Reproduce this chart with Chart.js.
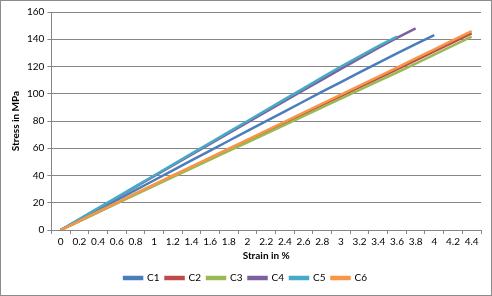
<!DOCTYPE html>
<html>
<head>
<meta charset="utf-8">
<script src="https://cdn.jsdelivr.net/npm/chart.js@4/dist/chart.umd.min.js"></script>
<style>
  body { margin: 0; background: #fff; }
  #wrap { position: relative; width: 490px; height: 294px; border: 1px solid #8c8c8c; }
</style>
</head>
<body>
<div id="wrap"><canvas id="stressChart"></canvas></div>
<script>
// Strain categories (%)
const strainLabels = ['0', '0.2', '0.4', '0.6', '0.8', '1', '1.2', '1.4', '1.6', '1.8', '2',
  '2.2', '2.4', '2.6', '2.8', '3', '3.2', '3.4', '3.6', '3.8', '4', '4.2', '4.4'];

// Stress values in MPa per specimen
const c1 = [0, 7.3, 14.6, 21.9, 29.2, 36.5, 43.8, 51.1, 58.3, 65.5, 72.7, 79.9, 87.1, 94.3, 101.5, 108.6, 115.7, 122.7, 129.6, 136.4, 143];
const c2 = [0, 6.6, 13.2, 19.8, 26.4, 33, 39.6, 46.2, 52.8, 59.3, 65.8, 72.3, 78.8, 85.3, 91.8, 98.3, 104.8, 111.3, 117.9, 124.5, 131.1, 137.7, 144.3];
const c3 = [0, 6.5, 13, 19.5, 26, 32.4, 38.8, 45.2, 51.6, 58, 64.4, 70.8, 77.2, 83.6, 90, 96.4, 102.8, 109.2, 115.6, 122.1, 128.7, 135.3, 142];
const c4 = [0, 7.9, 15.8, 23.7, 31.6, 39.5, 47.4, 55.3, 63.2, 71.1, 79, 86.9, 94.8, 102.6, 110.4, 118.2, 125.9, 133.6, 141, 148];
const c5 = [0, 8, 16, 24, 32, 40, 48, 56, 64, 72, 80, 88, 96, 104, 112, 120, 127.5, 135, 142];
const c6 = [0, 6.7, 13.4, 20.1, 26.8, 33.4, 40, 46.6, 53.2, 59.8, 66.4, 73, 79.6, 86.2, 92.8, 99.4, 106, 112.6, 119.2, 125.9, 132.6, 139.3, 146];

const seriesNames = ['C1', 'C2', 'C3', 'C4', 'C5', 'C6'];
const seriesData = [c1, c2, c3, c4, c5, c6];
const seriesColors = ['#4a7ebb', '#be4b48', '#98b954', '#7d60a0', '#46aac5', '#f79646'];

const fontFamily = 'Lato, "Open Sans", sans-serif';

const datasets = seriesNames.map((name, i) => ({
    label: name,
    data: seriesData[i],
    borderColor: seriesColors[i],
    backgroundColor: seriesColors[i],
    borderWidth: 2.5,
    pointRadius: 0,
    tension: 0,
    order: seriesNames.length - i // later series drawn on top, like Excel
}));

const ctx = document.getElementById('stressChart').getContext('2d');
new Chart(ctx, {
    type: 'line',
    data: { labels: strainLabels, datasets: datasets },
    options: {
        responsive: true,
        maintainAspectRatio: false,
        animation: false,
        layout: { padding: { left: 9, right: 10, top: 11, bottom: 2 } },
        scales: {
            x: {
                type: 'category',
                offset: true,
                grid: {
                    offset: true,
                    drawOnChartArea: false,
                    color: '#868686',
                    tickLength: 4
                },
                border: { color: '#868686' },
                ticks: { color: '#000', font: { family: fontFamily, size: 10 }, maxRotation: 0, autoSkip: false, padding: 2 },
                title: { display: true, text: 'Strain in %', color: '#000', font: { family: fontFamily, size: 10, weight: 'bold' }, padding: { top: 0, bottom: 5 } }
            },
            y: {
                min: 0,
                max: 160,
                ticks: { stepSize: 20, color: '#000', font: { family: fontFamily, size: 10 }, padding: 3 },
                grid: { color: '#868686', tickLength: 4 },
                border: { color: '#868686' },
                title: { display: true, text: 'Stress in MPa', color: '#000', font: { family: fontFamily, size: 10, weight: 'bold' }, padding: { top: 0, bottom: 2 } }
            }
        },
        plugins: {
            legend: {
                position: 'bottom',
                labels: {
                    boxWidth: 18,
                    boxHeight: 2,
                    padding: 6,
                    color: '#000',
                    font: { family: fontFamily, size: 10 },
                    sort: (a, b) => a.datasetIndex - b.datasetIndex
                }
            },
            tooltip: { enabled: false }
        }
    }
});
</script>
</body>
</html>
